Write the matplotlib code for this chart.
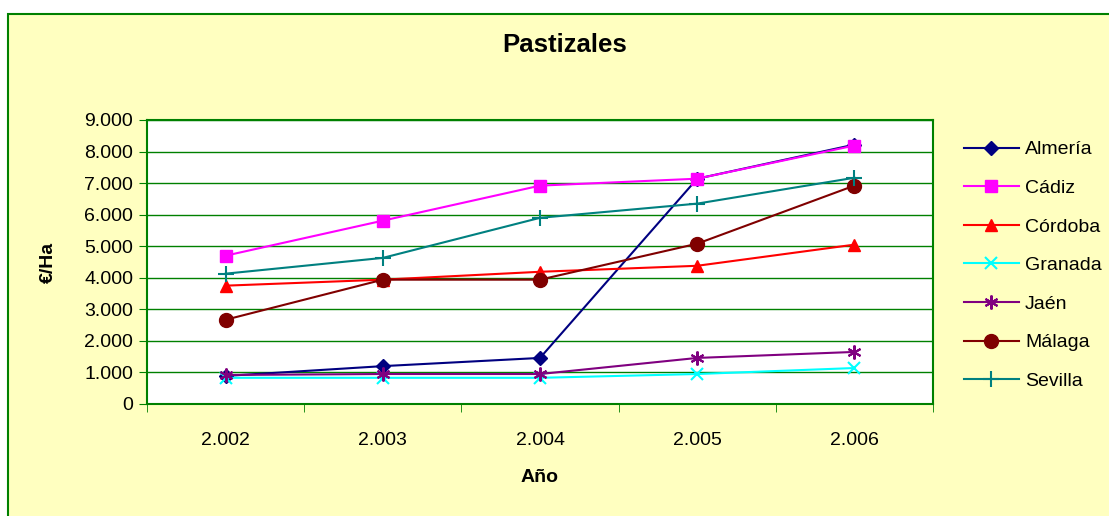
import matplotlib.pyplot as plt
from matplotlib.patches import Rectangle
from matplotlib.ticker import FuncFormatter, FixedLocator

plt.rcParams['font.family'] = ['Liberation Sans', 'DejaVu Sans']

years = [2002, 2003, 2004, 2005, 2006]
year_labels = ["2.002", "2.003", "2.004", "2.005", "2.006"]

almeria = [890, 1200, 1460, 7140, 8220]
cadiz = [4700, 5810, 6920, 7140, 8190]
cordoba = [3750, 3940, 4190, 4380, 5050]
granada = [830, 830, 830, 950, 1140]
jaen = [920, 950, 950, 1460, 1650]
malaga = [2670, 3940, 3940, 5080, 6920]
sevilla = [4130, 4630, 5900, 6350, 7170]

series = [
    ("Almería", almeria, "#000080", "D", 7),
    ("Cádiz", cadiz, "#FF00FF", "s", 9),
    ("Córdoba", cordoba, "#FF0000", "^", 9),
    ("Granada", granada, "#00FFFF", "x", 9),
    ("Jaén", jaen, "#800080", (6, 2, 0), 10),
    ("Málaga", malaga, "#800000", "o", 10),
    ("Sevilla", sevilla, "#008080", "+", 11),
]

bg = "#FFFFC0"
green = "#008000"

fig = plt.figure(figsize=(11.09, 5.16), dpi=100)
fig.patch.set_facecolor("white")
W, H = 1109, 516
fig.patches.append(Rectangle((8 / W, -0.05), 1.1, (516 - 14) / H + 0.05,
                             transform=fig.transFigure, facecolor=bg,
                             edgecolor=green, linewidth=1.5, zorder=-5))

ax = fig.add_axes([147 / W, 1 - 404 / H, (933 - 147) / W, (404 - 120) / H])
ax.set_zorder(2)
ax.set_facecolor("white")

x = list(range(len(years)))
for name, vals, col, mk, ms in series:
    ax.plot(x, vals, color=col, marker=mk, markersize=ms, linewidth=1.5,
            markeredgewidth=1.5 if mk in ("x", "+") or isinstance(mk, tuple) else 1,
            label=name, clip_on=False)

ax.set_xlim(-0.5, 4.5)
ax.set_ylim(0, 9000)
ax.set_yticks(range(0, 9001, 1000))
ax.yaxis.set_major_formatter(FuncFormatter(lambda v, p: "0" if v == 0 else f"{int(v):,}".replace(",", ".")))
ax.set_xticks(x)
ax.set_xticklabels(year_labels)
ax.xaxis.set_minor_locator(FixedLocator([-0.5, 0.5, 1.5, 2.5, 3.5, 4.5]))
ax.tick_params(axis="x", which="major", length=0, pad=20, labelsize=14)
ax.tick_params(axis="x", which="minor", length=6, color=green, direction="out")
ax.tick_params(axis="y", length=6, color=green, direction="out", labelsize=14, pad=4)
ax.grid(axis="y", color=green, linewidth=1)
ax.set_axisbelow(True)
for s in ax.spines.values():
    s.set_color(green)
    s.set_linewidth(1.5)

fig.text(565 / W, 1 - 45 / H, "Pastizales", ha="center", va="center",
         fontsize=18.5, fontweight="bold")
fig.text(48 / W, 1 - 262 / H, "€/Ha", ha="center", va="center", rotation=90,
         fontsize=14, fontweight="bold")
fig.text(540 / W, 1 - 478 / H, "Año", ha="center", va="center",
         fontsize=14, fontweight="bold")

leg = fig.legend(loc="upper left", bbox_to_anchor=(954 / W, 1 - 131 / H),
                 frameon=False, fontsize=14, handlelength=2.85,
                 labelspacing=1.08, handletextpad=0.3, borderpad=0)

fig.savefig("out.png", dpi=100, facecolor=fig.get_facecolor())
